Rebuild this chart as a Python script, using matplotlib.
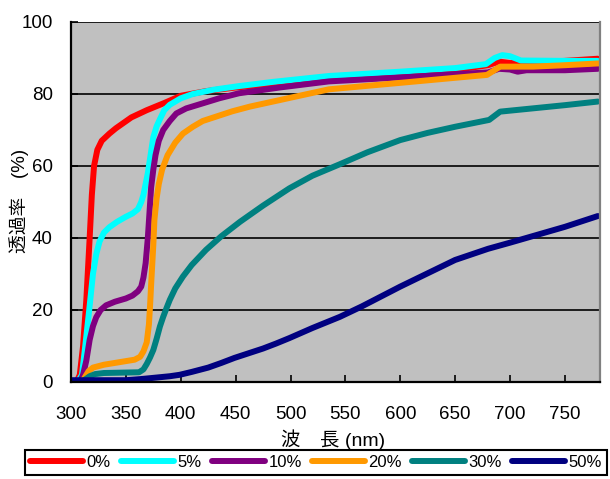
import numpy as np
import matplotlib
matplotlib.use('Agg')
import matplotlib.pyplot as plt

plt.rcParams['font.family'] = ['Liberation Sans', 'Noto Sans CJK JP', 'DejaVu Sans']

# wavelength (nm) / transmittance (%)
x0 = [300, 305, 308, 311, 314, 317, 319, 321, 324, 328, 335, 341, 355, 369, 385, 400, 423, 450, 500, 550, 600, 650, 680, 690, 700, 720, 750, 780]
y0 = [0, 0, 2, 10, 23, 40, 52, 60, 64.5, 67, 69, 70.5, 73.5, 75.5, 77.5, 79.5, 80.8, 81.8, 83.2, 84.3, 85.5, 86.7, 88, 89, 88.6, 88.8, 89.2, 89.8]

x5 = [300, 306, 310, 313, 316.6, 320, 323, 326, 330, 335, 342, 350, 356, 361, 364, 366, 368, 370, 373, 375, 378, 381, 385, 390, 400, 411, 430, 453, 485, 535, 600, 650, 678, 686, 693, 700, 710, 750, 780]
y5 = [0, 0, 2, 10, 20, 30, 35.5, 39, 41.5, 43, 44.5, 45.9, 46.8, 48, 50, 52, 55, 58, 64, 68, 71, 73, 75.5, 77, 78.8, 80, 81.2, 82.2, 83.4, 85.0, 86.2, 87.2, 88.3, 90, 90.8, 90.5, 89.3, 89.2, 89.2]

x10 = [300, 308, 311, 314, 317, 320, 323, 327, 332, 340, 350, 356, 361, 364, 366, 368, 370, 371.5, 373, 375, 377, 380, 384, 390, 396, 405, 420, 435, 453, 490, 535, 600, 650, 680, 690, 700, 707, 715, 750, 780]
y10 = [0, 0, 2, 6, 11.7, 15.5, 18, 20, 21.3, 22.3, 23.2, 24, 25.2, 26.5, 29, 33, 40, 47, 54, 59, 63, 67, 70, 72.5, 74.6, 76, 77.4, 78.8, 80.2, 81.8, 83.5, 84.6, 85.5, 86, 87, 86.8, 86.2, 86.6, 86.6, 87]

x20 = [300, 310, 312, 316, 320, 330, 344, 358, 363, 366, 369, 371, 372, 373, 375, 376, 378, 380, 383, 388, 395, 402, 411, 420, 432, 447, 463, 490, 535, 600, 650, 679, 691, 721, 750, 781]
y20 = [0, 0, 1, 3, 4, 4.8, 5.5, 6.2, 7, 8.5, 11, 16, 21, 27, 38, 45, 51, 55, 59, 63, 66.5, 69, 70.9, 72.5, 73.7, 75.2, 76.5, 78.3, 81.3, 83.1, 84.5, 85.3, 87.6, 87.6, 88, 88.5]

x30 = [300, 310, 312, 317, 322, 330, 362, 366, 369, 372, 375, 378, 381, 384, 387, 390, 395, 402, 410, 423, 437, 454, 475, 499, 520, 545, 570, 600, 625, 650, 681, 691, 750, 780]
y30 = [0, 0, 0.5, 1.6, 2.2, 2.5, 2.7, 3.5, 5, 6.8, 8.9, 12, 15.4, 18.1, 20.5, 22.8, 26, 29.3, 32.5, 36.7, 40.5, 44.5, 49, 53.8, 57.3, 60.5, 63.8, 67.2, 69.2, 70.9, 72.8, 75.1, 76.9, 77.9]

x50 = [300, 330, 350, 363, 370, 380, 390, 399, 410, 425, 437, 449, 462, 475, 487, 499, 520, 545, 565, 600, 650, 680, 700, 750, 780]
y50 = [0.5, 0.5, 0.5, 0.8, 1, 1.3, 1.6, 2, 2.8, 4, 5.3, 6.7, 8, 9.3, 10.7, 12.2, 15, 18.1, 21, 26.5, 33.9, 37, 38.7, 43.1, 46.1]

labels = ['0%', '5%', '10%', '20%', '30%', '50%']
colors = ['#FF0000', '#00FFFF', '#800080', '#FF9900', '#008080', '#000080']
xs = [x0, x5, x10, x20, x30, x50]
ys = [y0, y5, y10, y20, y30, y50]

fig = plt.figure(figsize=(6.1, 4.79), dpi=100)
ax = fig.add_axes([71/610, 1-382/479, 529/610, 360/479])
ax.set_facecolor('#C0C0C0')

for x, y, c, l in zip(xs, ys, colors, labels):
    ax.plot(x, y, color=c, lw=4.3, label=l, solid_capstyle='round', solid_joinstyle='round')

ax.set_xlim(300, 782)
ax.set_ylim(0, 100)
ax.set_xticks(np.arange(300, 751, 50))
ax.set_yticks(np.arange(0, 101, 20))
ax.yaxis.grid(True, color='black', lw=1.2)
ax.set_axisbelow(True)
ax.tick_params(axis='x', direction='in', length=5, width=1.2, pad=17, labelsize=13.5)
ax.tick_params(axis='y', direction='in', length=5, width=1.2, pad=13, labelsize=13.5)

ax.spines['top'].set_visible(False)
ax.spines['right'].set_color('#808080')
ax.spines['right'].set_linewidth(1.6)
ax.spines['left'].set_linewidth(1.6)
ax.spines['bottom'].set_linewidth(1.6)

fig.text(333/610, 1-440/479, '波\u3000長 (nm)', ha='center', va='center', fontsize=14)
fig.text(19/610, 1-201/479, '透過率\u3000(%)', ha='center', va='center', rotation=90, fontsize=13.5)

leg = fig.legend(loc='upper left', bbox_to_anchor=(25/610, 1-450/479), ncol=6, fontsize=12,
                 handlelength=3.2, handletextpad=0.2, columnspacing=0.6, borderpad=0.3,
                 borderaxespad=0, fancybox=False, framealpha=1, edgecolor='black')
leg.get_frame().set_linewidth(1.5)

fig.savefig('out.png', dpi=100)
